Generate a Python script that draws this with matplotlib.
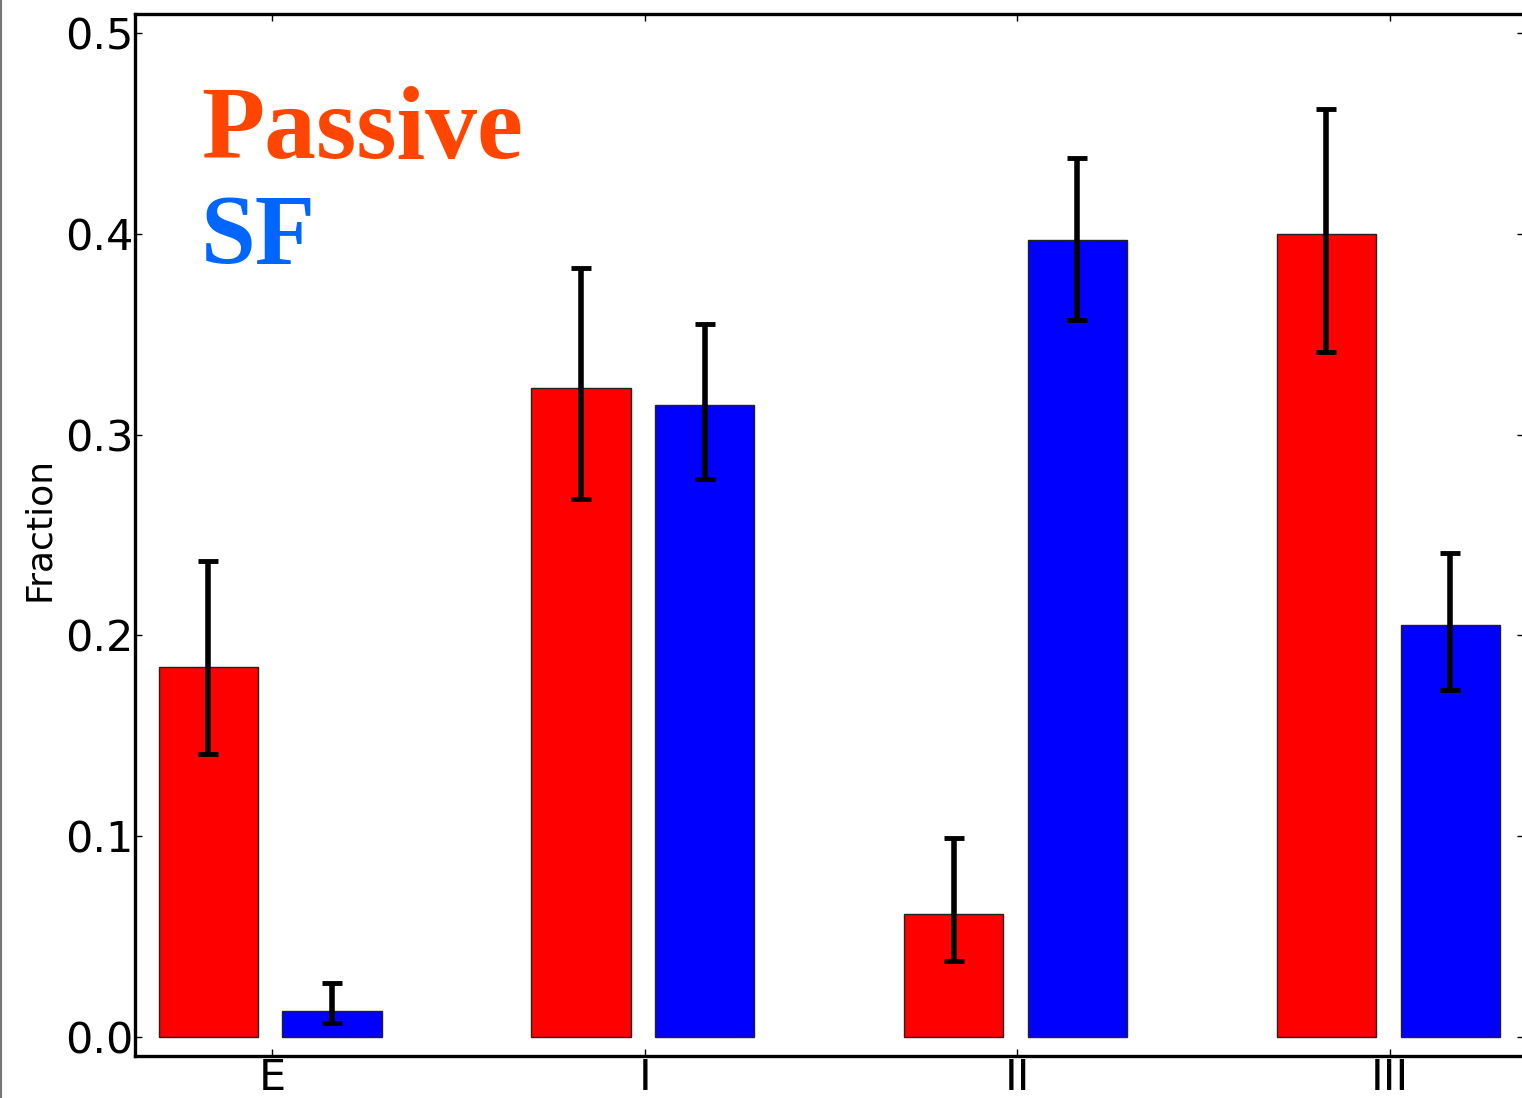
import numpy as np
import matplotlib
matplotlib.use("Agg")
import matplotlib.pyplot as plt
from matplotlib.lines import Line2D

# Morphology classes and per-class fractions
categories = ["E", "I", "II", "III"]

passive_frac = [0.184, 0.323, 0.061, 0.400]
passive_err_lo = [0.043, 0.055, 0.023, 0.059]
passive_err_hi = [0.053, 0.060, 0.038, 0.062]

sf_frac = [0.013, 0.315, 0.397, 0.205]
sf_err_lo = [0.006, 0.037, 0.040, 0.032]
sf_err_hi = [0.014, 0.040, 0.041, 0.036]

y_ticks = [0.0, 0.1, 0.2, 0.3, 0.4, 0.5]

plt.rcParams["font.family"] = ["DejaVu Sans"]

fig = plt.figure(figsize=(15.22, 10.98), dpi=100)
ax = fig.add_axes([0.0887, 0.0383, 0.9126, 0.9489])

x = np.arange(len(categories))
width = 0.266

err_kw = dict(ecolor="black", elinewidth=4.0, capsize=7, capthick=3.5)

ax.bar(x - 0.171, passive_frac, width, color="#ff0000", edgecolor="#222222",
       linewidth=1.0, yerr=[passive_err_lo, passive_err_hi], error_kw=err_kw)
ax.bar(x + 0.161, sf_frac, width, color="#0000ff", edgecolor="#222222",
       linewidth=1.0, yerr=[sf_err_lo, sf_err_hi], error_kw=err_kw)

ax.set_xlim(-0.3676, 3.359)
ax.set_ylim(-0.0095, 0.5095)
ax.set_xticks(x)
ax.set_xticklabels(categories)
ax.set_yticks(y_ticks)
ax.set_yticklabels([f"{v:.1f}" for v in y_ticks])

ax.tick_params(axis="both", which="major", direction="in", length=5, width=1,
               top=True, right=True, labelsize=31, colors="black")
ax.tick_params(axis="y", pad=1)
ax.tick_params(axis="x", pad=1)

for sp in ax.spines.values():
    sp.set_linewidth(2.4)

ax.set_ylabel("Fraction", fontsize=26, va="center")
ax.yaxis.set_label_coords(-0.069, 0.506)

ax.text(-0.191, 0.438, "Passive", color="#ff4500", fontsize=74.5,
        fontweight="bold", family="Liberation Serif", va="baseline", ha="left")
ax.text(-0.191, 0.3855, "SF", color="#0066ff", fontsize=71,
        fontweight="bold", family="Liberation Serif", va="baseline", ha="left")

fig.add_artist(Line2D([0.0008, 0.0008], [0, 1], color="#777777", lw=1.5,
                      transform=fig.transFigure))

fig.savefig("out.png", dpi=100)
